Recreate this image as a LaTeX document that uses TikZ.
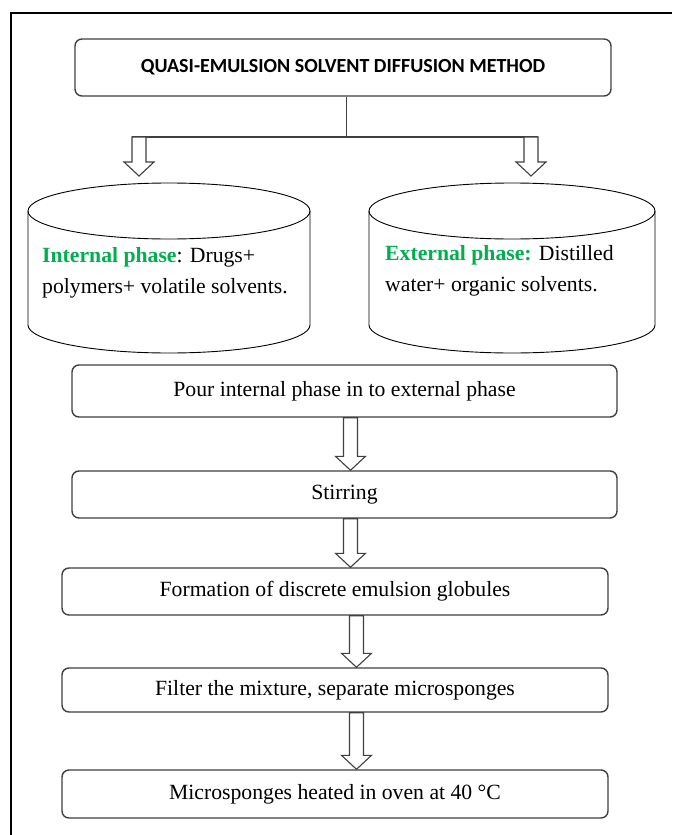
\documentclass[tikz,border=0pt]{standalone}
\usepackage{fontspec}
\setmainfont{Liberation Serif}
\newfontfamily\calibrifont{Carlito}
\usetikzlibrary{calc}
\definecolor{boxline}{HTML}{404040}
\definecolor{phasegreen}{RGB}{0,176,80}
\tikzset{
  stepbox/.style={draw=boxline, line width=1.4pt, rounded corners=7pt, fill=white, inner sep=0pt, font=\fontsize{21.7}{26}\selectfont},
  hollow/.style={draw=boxline, line width=1.1pt, fill=white, line join=miter},
  linkline/.style={draw=boxline, line width=1.1pt},
  can/.style={draw=black, line width=0.9pt},
  frameline/.style={draw=black, line width=2pt},
  cantext/.style={anchor=west, align=left, inner sep=0pt, font=\fontsize{21.7}{31}\selectfont},
}
\newcommand{\hollowarrow}[2]{%
  \draw[hollow] let \p1=(#1), \p2=(#2) in
   (\x1-7pt,\y1) -- (\x1+7pt,\y1) -- (\x1+7pt,\y2+14pt) -- (\x1+15pt,\y2+14pt)
   -- (\x1,\y2) -- (\x1-15pt,\y2+14pt) -- (\x1-7pt,\y2+14pt) -- cycle;}
\begin{document}
\begin{tikzpicture}[x=1pt,y=-1pt]
\useasboundingbox (0,0) rectangle (672,835);
\fill[white] (0,0) rectangle (672,835);
\draw[frameline] (10.5,835) -- (10.5,12.7) -- (672,12.7);

\node[stepbox, minimum width=536, minimum height=57,
      font=\calibrifont\bfseries\fontsize{20}{24}\selectfont] (title) at (343,67.5)
      {QUASI-EMULSION SOLVENT DIFFUSION METHOD};

\coordinate (join) at (346.7,137);
\coordinate (la) at (139,137);
\coordinate (ra) at (531,137);
\coordinate (lt) at (139,176);
\coordinate (rt) at (531,176);
\draw[linkline] (title.south -| join) -- (join);
\draw[linkline] ($(la)+(-7,0)$) -- ($(ra)+(7,0)$);
\hollowarrow{la}{lt}
\hollowarrow{ra}{rt}

% cylinders
\draw[can] (169,211) ellipse [x radius=141, y radius=28];
\draw[can] (28,211) -- (28,325) arc[start angle=180, end angle=0, x radius=141, y radius=28] -- (310,211);
\draw[can] (512,211) ellipse [x radius=143, y radius=28];
\draw[can] (369,211) -- (369,325) arc[start angle=180, end angle=0, x radius=143, y radius=28] -- (655,211);

\node[cantext] (intext) at (42,272.5)
  {\textcolor{phasegreen}{\textbf{Internal phase}}: Drugs+\\polymers+ volatile solvents.};
\node[cantext] (extext) at (385,271)
  {\textcolor{phasegreen}{\textbf{External phase:}} Distilled\\water+ organic solvents.};

\node[stepbox, minimum width=545, minimum height=52] (pour) at (344.5,391) {Pour internal phase in to external phase};
\node[stepbox, minimum width=545, minimum height=47] (stir) at (344.5,494.5) {Stirring};
\node[stepbox, minimum width=546, minimum height=47] (form) at (335,591.5) {Formation of discrete emulsion globules};
\node[stepbox, minimum width=546, minimum height=44] (filt) at (335,690) {Filter the mixture, separate microsponges};
\node[stepbox, minimum width=546, minimum height=48] (micro) at (335,794) {Microsponges heated in oven at 40 °C};

\hollowarrow{$(pour.south)+(6,0)$}{stir.north}
\hollowarrow{$(stir.south)+(6,0)$}{form.north}
\hollowarrow{$(form.south)+(21.5,0)$}{filt.north}
\hollowarrow{$(filt.south)+(21.5,0)$}{micro.north}
\end{tikzpicture}
\end{document}
